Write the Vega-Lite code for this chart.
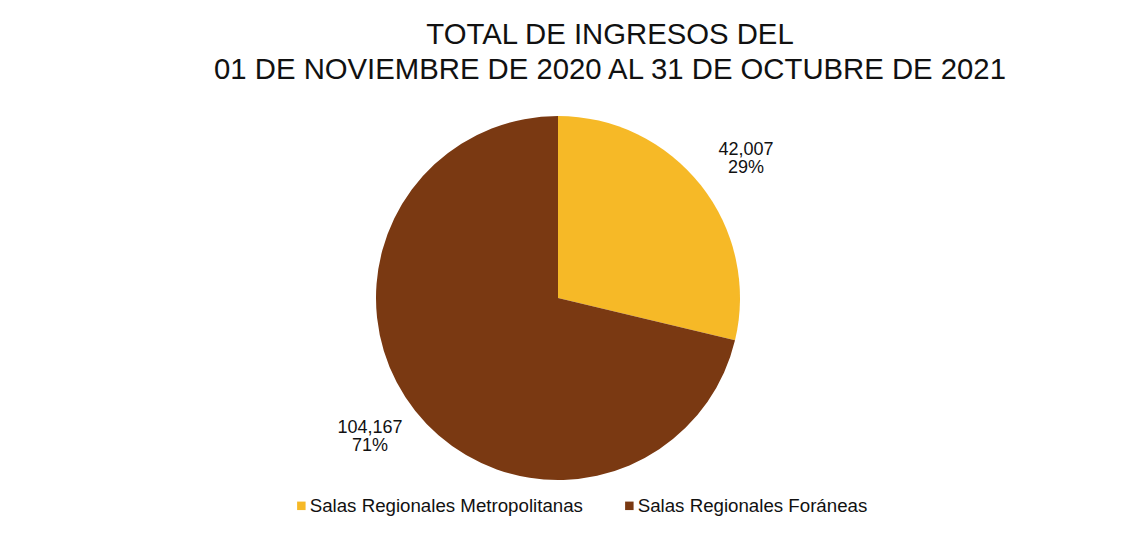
{
  "$schema": "https://vega.github.io/schema/vega-lite/v6.json",
  "autosize": "none",
  "width": 364,
  "height": 364,
  "padding": {"left": 376, "top": 116, "right": 397, "bottom": 60},
  "background": "white",
  "title": {
    "text": ["TOTAL DE INGRESOS DEL", "01 DE NOVIEMBRE DE 2020 AL 31 DE OCTUBRE DE 2021"],
    "font": "Liberation Sans",
    "fontSize": 29.3,
    "fontWeight": "normal",
    "color": "#111111",
    "lineHeight": 35,
    "anchor": "middle",
    "frame": "group",
    "dx": 52,
    "offset": 31
  },
  "data": {
    "values": [
      {"category": "Salas Regionales Metropolitanas", "value": 42007},
      {"category": "Salas Regionales Foráneas", "value": 104167}
    ]
  },
  "transform": [
    {"joinaggregate": [{"op": "sum", "field": "value", "as": "total"}]},
    {"calculate": "[format(datum.value, ','), format(datum.value / datum.total, '.0%')]", "as": "label"}
  ],
  "encoding": {
    "theta": {"field": "value", "type": "quantitative", "stack": true},
    "order": {"field": "category", "sort": "descending"}
  },
  "layer": [
    {
      "mark": {"type": "arc", "outerRadius": 182},
      "encoding": {
        "color": {
          "field": "category",
          "type": "nominal",
          "scale": {
            "domain": ["Salas Regionales Metropolitanas", "Salas Regionales Foráneas"],
            "range": ["#F6B927", "#7A3912"]
          },
          "legend": {
            "title": null,
            "orient": "none",
            "direction": "horizontal",
            "legendX": -84,
            "legendY": 380,
            "symbolType": "square",
            "symbolSize": 72,
            "symbolStrokeWidth": 0,
            "labelFont": "Liberation Sans",
            "labelFontSize": 18.7,
            "labelColor": "#111111",
            "labelLimit": 400,
            "labelOffset": -1,
            "columnPadding": 37
          }
        }
      }
    },
    {
      "mark": {"type": "text", "radius": 234, "thetaOffset": 0.03, "dy": -9, "font": "Liberation Sans", "fontSize": 18, "lineHeight": 18, "color": "#111111", "baseline": "middle", "align": "center"},
      "encoding": {
        "text": {"field": "label"}
      }
    }
  ]
}
